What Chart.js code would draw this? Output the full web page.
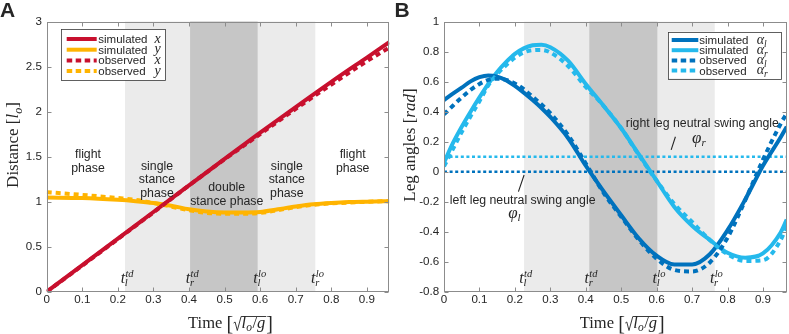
<!DOCTYPE html>
<html><head><meta charset="utf-8">
<script src="https://cdn.jsdelivr.net/npm/chart.js@4.4.1/dist/chart.umd.min.js"></script>
<style>
html,body{margin:0;padding:0;background:#fff;}
#wrap{position:relative;width:789px;height:334px;overflow:hidden;background:#fff;}
canvas{position:absolute;top:0;}
</style></head><body>
<div id="wrap">
<canvas id="cA" width="395" height="334" style="left:0;width:395px;height:334px"></canvas>
<canvas id="cB" width="394" height="334" style="left:395px;width:394px;height:334px"></canvas>
</div>
<script>
// ---------------- data ----------------
const xTicks = [0, 0.1, 0.2, 0.3, 0.4, 0.5, 0.6, 0.7, 0.8, 0.9];
const xTickLabels = ['0', '0.1', '0.2', '0.3', '0.4', '0.5', '0.6', '0.7', '0.8', '0.9'];
const yTicksA = [0, 0.5, 1, 1.5, 2, 2.5, 3];
const yTickLabelsA = ['0', '0.5', '1', '1.5', '2', '2.5', '3'];
const yTicksB = [-0.8, -0.6, -0.4, -0.2, 0, 0.2, 0.4, 0.6, 0.8, 1];
const yTickLabelsB = ['-0.8', '-0.6', '-0.4', '-0.2', '0', '0.2', '0.4', '0.6', '0.8', '1'];

// panel A : distance
const timeX = [0, 0.1, 0.2, 0.3, 0.4, 0.5, 0.6, 0.7, 0.8, 0.9, 0.963];
const simX  = [0, 0.295, 0.59, 0.885, 1.18, 1.475, 1.765, 2.05, 2.33, 2.6, 2.77];
const obsX  = [0, 0.29, 0.585, 0.88, 1.18, 1.47, 1.75, 2.03, 2.3, 2.56, 2.71];
const timeY = [0, 0.1, 0.2, 0.25, 0.3, 0.35, 0.4, 0.45, 0.5, 0.55, 0.6, 0.65, 0.7, 0.75, 0.8, 0.85, 0.9, 0.963];
const simY  = [1.045, 1.04, 1.02, 1.005, 0.985, 0.955, 0.915, 0.89, 0.88, 0.88, 0.885, 0.915, 0.945, 0.97, 0.985, 0.995, 1.0, 1.005];
const obsY  = [1.105, 1.075, 1.04, 1.02, 0.985, 0.945, 0.905, 0.875, 0.865, 0.865, 0.875, 0.905, 0.94, 0.965, 0.98, 0.99, 0.998, 1.005];

// panel B : leg angles
const timeAlpha = [0, 0.025, 0.05, 0.075, 0.1, 0.125, 0.15, 0.175, 0.2, 0.225, 0.25, 0.275, 0.3, 0.35, 0.4, 0.45, 0.5, 0.55, 0.6, 0.65, 0.7, 0.75, 0.8, 0.85, 0.9, 0.95, 0.967];
const simAlphaL = [0.478, 0.52, 0.56, 0.602, 0.63, 0.642, 0.634, 0.61, 0.572, 0.527, 0.478, 0.425, 0.365, 0.225, 0.04, -0.13, -0.29, -0.445, -0.56, -0.618, -0.618, -0.55, -0.39, -0.185, 0.04, 0.23, 0.30];
const simAlphaR = [0.06, 0.19, 0.30, 0.40, 0.495, 0.585, 0.665, 0.73, 0.785, 0.822, 0.843, 0.847, 0.83, 0.74, 0.585, 0.44, 0.29, 0.115, -0.06, -0.235, -0.36, -0.455, -0.54, -0.573, -0.545, -0.405, -0.32];
const obsAlphaL = [0.382, 0.44, 0.495, 0.545, 0.585, 0.612, 0.62, 0.612, 0.588, 0.55, 0.5, 0.448, 0.39, 0.245, 0.055, -0.14, -0.30, -0.455, -0.58, -0.655, -0.665, -0.605, -0.44, -0.19, 0.08, 0.32, 0.39];
const obsAlphaR = [0.035, 0.15, 0.265, 0.37, 0.47, 0.575, 0.65, 0.71, 0.76, 0.795, 0.81, 0.812, 0.795, 0.705, 0.565, 0.44, 0.29, 0.11, -0.06, -0.215, -0.335, -0.455, -0.55, -0.595, -0.59, -0.455, -0.36];
const phiTime = [0, 0.967];
const phiR = [0.1, 0.1];
const phiL = [0, 0];

// gait event times (shading edges): left td, right td, left lo, right lo
const eventsA = [0.22, 0.403, 0.593, 0.755];
const eventsB = [0.226, 0.41, 0.602, 0.764];
const eventSub = ['l', 'r', 'l', 'r'];
const eventSup = ['td', 'td', 'lo', 'lo'];

// ---------------- styling ----------------
const SANS = '"Liberation Sans", Arial, sans-serif';
const SERIF = '"Liberation Serif", "Times New Roman", serif';
const TXT = '#262626';
const AXC = '#8c8c8c';
const RED = '#c8102e', ORANGE = '#ffb400', DBLUE = '#0072bd', LBLUE = '#25b9ec';

function pts(t, v) { return t.map((x, i) => ({ x: x, y: v[i] })); }
function lineDS(t, v, color, dashed) {
  return { data: pts(t, v), borderColor: color, backgroundColor: color, borderWidth: 4,
    borderDash: dashed ? [5, 4] : [], pointRadius: 0, fill: false, clip: 0,
    cubicInterpolationMode: 'monotone', borderCapStyle: 'butt', borderJoinStyle: 'round' };
}
function dotDS(t, v, color) {
  return { data: pts(t, v), borderColor: color, borderWidth: 2.6, borderDash: [3, 2.6],
    pointRadius: 0, fill: false, clip: 0, tension: 0, borderCapStyle: 'butt' };
}

function drawParts(ctx, parts, x, y, align) {
  let w = 0;
  parts.forEach(p => { ctx.font = p.f; p.w = (p.adv !== undefined) ? p.adv : ctx.measureText(p.t).width; w += p.w; });
  let cx = align === 'center' ? x - w / 2 : (align === 'right' ? x - w : x);
  ctx.textAlign = 'left'; ctx.textBaseline = 'alphabetic';
  parts.forEach(p => { ctx.font = p.f; ctx.fillText(p.t, cx, y + (p.dy || 0)); cx += p.w; });
  return w;
}
function drawT(ctx, cx, base, sub, sup) {
  const f1 = 'italic 16px ' + SERIF, f2 = 'italic 10.5px ' + SERIF;
  ctx.font = f1; const wt = ctx.measureText('t').width;
  ctx.font = f2; const ws = Math.max(ctx.measureText(sub).width, ctx.measureText(sup).width);
  const x0 = cx - (wt + ws) / 2;
  ctx.fillStyle = TXT; ctx.textAlign = 'left'; ctx.textBaseline = 'alphabetic';
  ctx.font = f1; ctx.fillText('t', x0, base);
  ctx.font = f2; ctx.fillText(sup, x0 + wt + 0.3, base - 5.6); ctx.fillText(sub, x0 + wt - 0.3, base + 3);
}
function drawTimeTitle(ctx, cx, b) {
  const rm = '16.5px ' + SERIF, it = 'italic 16.5px ' + SERIF, sb = 'italic 11.5px ' + SERIF, big = '20px ' + SERIF;
  ctx.font = rm; const wTime = ctx.measureText('Time ').width;
  ctx.font = big; const wB = ctx.measureText('[').width;
  const wRad = 8.5;
  ctx.font = it; const wl = ctx.measureText('l').width; const wg = ctx.measureText('g').width;
  ctx.font = sb; const wo = ctx.measureText('o').width;
  ctx.font = rm; const wsl = ctx.measureText('/').width;
  const wIn = wl + wo + 0.5 + wsl + wg + 1;
  const total = wTime + wB + wRad + wIn + wB;
  let x = cx - total / 2;
  ctx.fillStyle = TXT; ctx.strokeStyle = TXT; ctx.textAlign = 'left'; ctx.textBaseline = 'alphabetic';
  ctx.font = rm; ctx.fillText('Time ', x, b); x += wTime;
  ctx.font = big; ctx.fillText('[', x, b + 1.5); x += wB;
  // radical
  ctx.lineWidth = 0.9; ctx.beginPath();
  ctx.moveTo(x + 0.5, b - 5); ctx.lineTo(x + 2, b - 6); ctx.lineTo(x + 4.2, b + 2.5); ctx.lineTo(x + 8, b - 11.5);
  ctx.lineTo(x + wRad + wIn, b - 11.5); ctx.stroke();
  x += wRad;
  ctx.font = it; ctx.fillText('l', x, b); x += wl;
  ctx.font = sb; ctx.fillText('o', x, b + 3); x += wo + 0.5;
  ctx.font = rm; ctx.fillText('/', x, b); x += wsl;
  ctx.font = it; ctx.fillText('g', x, b); x += wg + 1;
  ctx.font = big; ctx.fillText(']', x, b + 1.5);
}
function drawBox(ctx, a, x, y, yt) {
  ctx.save();
  ctx.strokeStyle = AXC; ctx.lineWidth = 1; ctx.setLineDash([]);
  const L = Math.round(a.left) + 0.5, R = Math.round(a.right) - 0.5, T = Math.round(a.top) + 0.5, B = Math.round(a.bottom) - 0.5;
  ctx.strokeRect(L, T, R - L, B - T);
  ctx.beginPath();
  xTicks.forEach(v => { const p = Math.round(x.getPixelForValue(v)) + 0.5; ctx.moveTo(p, B); ctx.lineTo(p, B - 4); ctx.moveTo(p, T); ctx.lineTo(p, T + 4); });
  yt.forEach(v => { const p = Math.round(y.getPixelForValue(v)) + 0.5; ctx.moveTo(L, p); ctx.lineTo(L + 4, p); ctx.moveTo(R, p); ctx.lineTo(R - 4, p); });
  ctx.stroke();
  ctx.restore();
}
function drawLegend(ctx, L, rows) {
  ctx.save();
  ctx.fillStyle = '#fff'; ctx.fillRect(L.x, L.y, L.w, L.h);
  ctx.strokeStyle = '#3a3a3a'; ctx.lineWidth = 0.8; ctx.strokeRect(Math.round(L.x) + 0.5, Math.round(L.y) + 0.5, Math.round(L.w), Math.round(L.h));
  rows.forEach((r, i) => {
    const cy = L.y + L.r0 + i * L.dr;
    ctx.strokeStyle = r.color; ctx.lineWidth = 4; ctx.lineCap = 'butt';
    ctx.setLineDash(r.dashed ? [5.5, 3.5] : []);
    ctx.beginPath(); ctx.moveTo(L.l0, cy); ctx.lineTo(L.l1, cy); ctx.stroke();
    ctx.setLineDash([]);
    ctx.fillStyle = TXT; ctx.font = '11.5px ' + SANS; ctx.textAlign = 'left'; ctx.textBaseline = 'alphabetic';
    ctx.fillText(r.label, L.tx, cy + 4);
    drawParts(ctx, r.sym, L.mx, cy + 3.5, 'left');
  });
  ctx.restore();
}

const axisBase = (min, max, ticks, labels, isX, size) => ({
  type: 'linear', min: min, max: max,
  grid: { display: false, drawTicks: false }, border: { display: false },
  afterBuildTicks: s => { s.ticks = ticks.map(v => ({ value: v })); },
  afterFit: s => { if (isX) s.height = size; else s.width = size; },
  ticks: { autoSkip: false, maxRotation: 0, color: TXT, padding: isX ? 1.5 : 4.8,
    font: { family: '"Liberation Sans", Arial, sans-serif', size: 11.6 },
    callback: (v, i) => labels[i] }
});

// ---------------- chart A ----------------
const phaseLabelsA = [
  { t: 0.116, v: 1.481, lines: ['flight', 'phase'] },
  { t: 0.31, v: 1.352, lines: ['single', 'stance', 'phase'] },
  { t: 0.506, v: 1.115, lines: ['double', 'stance phase'] },
  { t: 0.675, v: 1.352, lines: ['single', 'stance', 'phase'] },
  { t: 0.86, v: 1.481, lines: ['flight', 'phase'] }
];

function shade(chart, ev) {
  const { ctx, chartArea: a, scales: { x } } = chart;
  const e = ev.map(v => x.getPixelForValue(v));
  ctx.save();
  ctx.fillStyle = '#ebebeb'; ctx.fillRect(e[0], a.top, e[3] - e[0], a.bottom - a.top);
  ctx.fillStyle = '#c6c6c6'; ctx.fillRect(e[1], a.top, e[2] - e[1], a.bottom - a.top);
  ctx.restore();
}

const plugA = {
  id: 'decoA',
  beforeDatasetsDraw(chart) { shade(chart, eventsA); },
  afterDatasetsDraw(chart) {
    const { ctx, chartArea: a, scales: { x, y } } = chart;
    ctx.save();
    ctx.fillStyle = TXT; ctx.font = '12.3px ' + SANS; ctx.textAlign = 'center'; ctx.textBaseline = 'alphabetic';
    phaseLabelsA.forEach(p => {
      const px = x.getPixelForValue(p.t), py = y.getPixelForValue(p.v);
      p.lines.forEach((s, i) => ctx.fillText(s, px, py + i * 13.3));
    });
    eventsA.forEach((t, i) => drawT(ctx, x.getPixelForValue(t) + 2, a.bottom - 9.2, eventSub[i], eventSup[i]));
    drawBox(ctx, a, x, y, yTicksA);
    const sym = s => [{ t: s, f: 'italic 14px ' + SERIF }];
    drawLegend(ctx, { x: 61.3, y: 29.3, w: 104, h: 50.7, r0: 9.7, dr: 10.7, l0: 66.7, l1: 96.7, tx: 98.3, mx: 154.5 }, [
      { color: RED, dashed: false, label: 'simulated', sym: sym('x') },
      { color: ORANGE, dashed: false, label: 'simulated', sym: sym('y') },
      { color: RED, dashed: true, label: 'observed', sym: sym('x') },
      { color: ORANGE, dashed: true, label: 'observed', sym: sym('y') }
    ]);
    // titles
    ctx.fillStyle = TXT;
    drawTimeTitle(ctx, 230.5, 328);
    ctx.save(); ctx.translate(18, 145); ctx.rotate(-Math.PI / 2);
    drawParts(ctx, [
      { t: 'Distance ', f: '17px ' + SERIF }, { t: '[', f: '17px ' + SERIF },
      { t: 'l', f: 'italic 17px ' + SERIF }, { t: 'o', f: 'italic 12px ' + SERIF, dy: 3.5 },
      { t: ']', f: '17px ' + SERIF }], 0, 0, 'center');
    ctx.restore();
    ctx.font = 'bold 21px ' + SANS; ctx.textAlign = 'left'; ctx.fillText('A', 0, 16.7);
    ctx.restore();
  }
};

new Chart(document.getElementById('cA'), {
  type: 'line',
  data: { datasets: [
    lineDS(timeX, obsX, RED, true),
    lineDS(timeY, obsY, ORANGE, true),
    lineDS(timeX, simX, RED, false),
    lineDS(timeY, simY, ORANGE, false)
  ] },
  options: {
    responsive: false, animation: false, events: [], devicePixelRatio: 1,
    layout: { padding: { left: 0, right: 5.7, top: 21.5, bottom: 0 } },
    plugins: { legend: { display: false }, tooltip: { enabled: false } },
    scales: {
      x: axisBase(0, 0.963, xTicks, xTickLabels, true, 42.3),
      y: axisBase(0, 3, yTicksA, yTickLabelsA, false, 46.7)
    }
  },
  plugins: [plugA]
});

// ---------------- chart B ----------------
const plugB = {
  id: 'decoB',
  beforeDatasetsDraw(chart) { shade(chart, eventsB); },
  afterDatasetsDraw(chart) {
    const { ctx, chartArea: a, scales: { x, y } } = chart;
    ctx.save();
    ctx.fillStyle = TXT; ctx.font = '12.3px ' + SANS; ctx.textAlign = 'center'; ctx.textBaseline = 'alphabetic';
    ctx.fillText('right leg neutral swing angle', x.getPixelForValue(0.729), y.getPixelForValue(0.295));
    ctx.fillText('left leg neutral swing angle', x.getPixelForValue(0.222), y.getPixelForValue(-0.215));
    ctx.strokeStyle = TXT; ctx.lineWidth = 1.1;
    ctx.beginPath();
    ctx.moveTo(x.getPixelForValue(0.641), y.getPixelForValue(0.145)); ctx.lineTo(x.getPixelForValue(0.653), y.getPixelForValue(0.233));
    ctx.moveTo(x.getPixelForValue(0.21), y.getPixelForValue(-0.133)); ctx.lineTo(x.getPixelForValue(0.226), y.getPixelForValue(-0.022));
    ctx.stroke();
    drawParts(ctx, [{ t: 'φ', f: 'italic 17px ' + SERIF }, { t: 'r', f: 'italic 11px ' + SERIF, dy: 3 }], x.getPixelForValue(0.70), y.getPixelForValue(0.19), 'left');
    drawParts(ctx, [{ t: 'φ', f: 'italic 17px ' + SERIF }, { t: 'l', f: 'italic 11px ' + SERIF, dy: 3 }], x.getPixelForValue(0.181), y.getPixelForValue(-0.309), 'left');
    eventsB.forEach((t, i) => drawT(ctx, x.getPixelForValue(t) + 1.5, a.bottom - 9.2, eventSub[i], eventSup[i]));
    drawBox(ctx, a, x, y, yTicksB);
    const sym = s => [{ t: 'α', f: 'italic 14px ' + SERIF }, { t: s, f: 'italic 9.5px ' + SERIF, dy: 3 }];
    drawLegend(ctx, { x: 273, y: 31.7, w: 113, h: 46.6, r0: 8.3, dr: 10.2, l0: 276.7, l1: 303.3, tx: 304.3, mx: 361.7 }, [
      { color: DBLUE, dashed: false, label: 'simulated', sym: sym('l') },
      { color: LBLUE, dashed: false, label: 'simulated', sym: sym('r') },
      { color: DBLUE, dashed: true, label: 'observed', sym: sym('l') },
      { color: LBLUE, dashed: true, label: 'observed', sym: sym('r') }
    ]);
    ctx.fillStyle = TXT;
    drawTimeTitle(ctx, 227.2, 328);
    ctx.save(); ctx.translate(20, 145); ctx.rotate(-Math.PI / 2);
    drawParts(ctx, [
      { t: 'Leg angles ', f: '17px ' + SERIF }, { t: '[', f: '17px ' + SERIF },
      { t: 'rad', f: 'italic 17px ' + SERIF }, { t: ']', f: '17px ' + SERIF }], 0, 0, 'center');
    ctx.restore();
    ctx.font = 'bold 21px ' + SANS; ctx.textAlign = 'left'; ctx.fillText('B', -0.5, 16.7);
    ctx.restore();
  }
};

new Chart(document.getElementById('cB'), {
  type: 'line',
  data: { datasets: [
    lineDS(timeAlpha, obsAlphaL, DBLUE, true),
    lineDS(timeAlpha, obsAlphaR, LBLUE, true),
    lineDS(timeAlpha, simAlphaL, DBLUE, false),
    lineDS(timeAlpha, simAlphaR, LBLUE, false),
    dotDS(phiTime, phiR, LBLUE),
    dotDS(phiTime, phiL, DBLUE)
  ] },
  options: {
    responsive: false, animation: false, events: [], devicePixelRatio: 1,
    layout: { padding: { left: 0, right: 2.3, top: 21.7, bottom: 0 } },
    plugins: { legend: { display: false }, tooltip: { enabled: false } },
    scales: {
      x: axisBase(0, 0.967, xTicks, xTickLabels, true, 42.3),
      y: axisBase(-0.8, 1, yTicksB, yTickLabelsB, false, 49)
    }
  },
  plugins: [plugB]
});
</script>
</body></html>
